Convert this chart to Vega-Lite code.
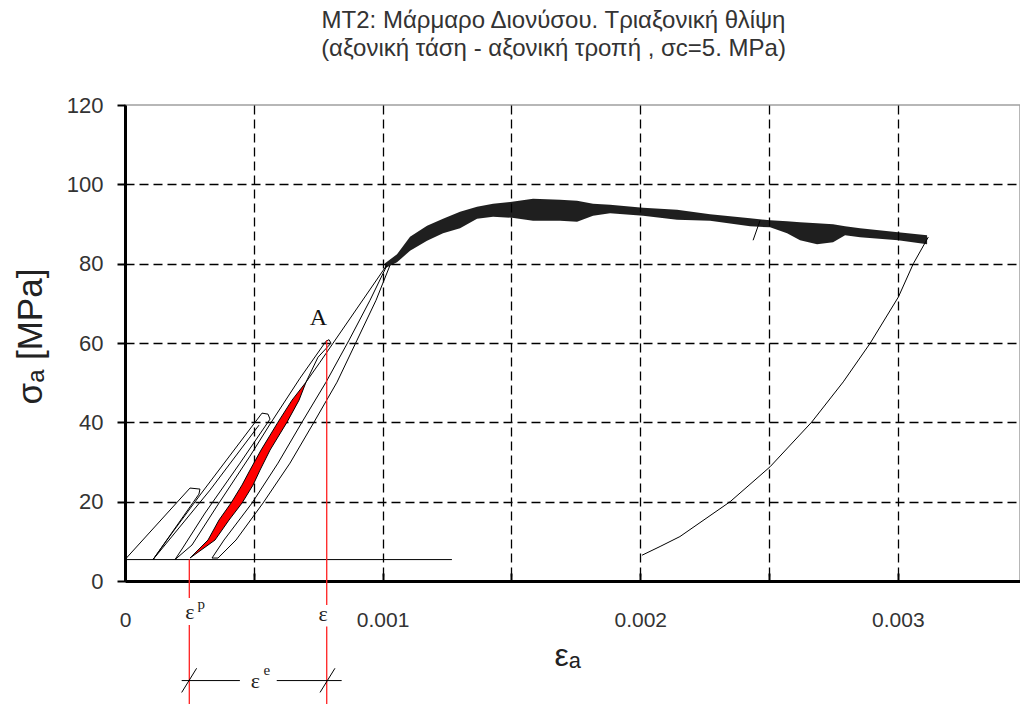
{
  "$schema": "https://vega.github.io/schema/vega-lite/v6.json",
  "width": 895,
  "height": 476,
  "autosize": "none",
  "padding": {"left": 125, "top": 105, "right": 0, "bottom": 123},
  "background": "white",
  "config": {
    "view": {"stroke": "#a0a0a0", "strokeWidth": 1.5},
    "font": "Liberation Sans"
  },
  "title": {
    "text": ["MT2: Μάρμαρο Διονύσου. Τριαξονική θλίψη", "(αξονική τάση - αξονική τροπή , σc=5. MPa)"],
    "font": "Liberation Sans",
    "fontSize": 24,
    "fontWeight": "normal",
    "color": "#333",
    "lineHeight": 28,
    "anchor": "middle",
    "frame": "group",
    "baseline": "bottom",
    "dx": -19,
    "offset": 9
  },
  "datasets": {
    "curves": [
      {"seg": "base", "i": 0, "x": 0, "y": 5.4},
      {"seg": "base", "i": 1, "x": 0.001269, "y": 5.4},
      {"seg": "L1", "i": 0, "x": 0, "y": 5.4},
      {"seg": "L1", "i": 1, "x": 0.0002523, "y": 23.43},
      {"seg": "L1", "i": 2, "x": 0.000291, "y": 23.17},
      {"seg": "L1", "i": 3, "x": 0.000287, "y": 21.91},
      {"seg": "L1", "i": 4, "x": 0.0001087, "y": 5.4},
      {"seg": "C", "i": 0, "x": 0.0001087, "y": 5.4},
      {"seg": "C", "i": 1, "x": 0.0001825, "y": 12.09},
      {"seg": "C", "i": 2, "x": 0.0002911, "y": 21.66},
      {"seg": "C", "i": 3, "x": 0.0005318, "y": 42.32},
      {"seg": "C", "i": 4, "x": 0.0005551, "y": 42.07},
      {"seg": "C", "i": 5, "x": 0.0005629, "y": 40.81},
      {"seg": "D", "i": 0, "x": 0.0001087, "y": 5.4},
      {"seg": "D", "i": 1, "x": 0.00033, "y": 22.92},
      {"seg": "D", "i": 2, "x": 0.00052, "y": 39.29},
      {"seg": "E", "i": 0, "x": 0.0005629, "y": 40.81},
      {"seg": "E", "i": 1, "x": 0.0004464, "y": 29.72},
      {"seg": "E", "i": 2, "x": 0.0003106, "y": 17.13},
      {"seg": "E", "i": 3, "x": 0.0002213, "y": 8.06},
      {"seg": "E", "i": 4, "x": 0.0001941, "y": 5.4},
      {"seg": "F", "i": 0, "x": 0.0001941, "y": 5.4},
      {"seg": "F", "i": 1, "x": 0.00026, "y": 9.07},
      {"seg": "F", "i": 2, "x": 0.0003571, "y": 18.89},
      {"seg": "F", "i": 3, "x": 0.0004853, "y": 31.49},
      {"seg": "F", "i": 4, "x": 0.0005629, "y": 39.55},
      {"seg": "F", "i": 5, "x": 0.0006793, "y": 51.13},
      {"seg": "F", "i": 6, "x": 0.0007803, "y": 60.45},
      {"seg": "F", "i": 7, "x": 0.0007919, "y": 60.83},
      {"seg": "F", "i": 8, "x": 0.0007997, "y": 59.95},
      {"seg": "F", "i": 9, "x": 0.0007492, "y": 56.42},
      {"seg": "F", "i": 10, "x": 0.0007026, "y": 50.13},
      {"seg": "LL", "i": 0, "x": 0.0007026, "y": 50.13},
      {"seg": "LL", "i": 1, "x": 0.0006483, "y": 45.59},
      {"seg": "LL", "i": 2, "x": 0.0005939, "y": 40.05},
      {"seg": "LL", "i": 3, "x": 0.000528, "y": 33.0},
      {"seg": "LL", "i": 4, "x": 0.0004852, "y": 27.96},
      {"seg": "LL", "i": 5, "x": 0.0004542, "y": 24.18},
      {"seg": "LL", "i": 6, "x": 0.0004115, "y": 19.65},
      {"seg": "LL", "i": 7, "x": 0.0003649, "y": 15.37},
      {"seg": "LL", "i": 8, "x": 0.0003222, "y": 10.33},
      {"seg": "LL", "i": 9, "x": 0.0002523, "y": 5.79},
      {"seg": "LR", "i": 0, "x": 0.0002523, "y": 5.79},
      {"seg": "LR", "i": 1, "x": 0.0003494, "y": 10.33},
      {"seg": "LR", "i": 2, "x": 0.0004037, "y": 15.37},
      {"seg": "LR", "i": 3, "x": 0.0004542, "y": 19.65},
      {"seg": "LR", "i": 4, "x": 0.0004969, "y": 24.18},
      {"seg": "LR", "i": 5, "x": 0.0005241, "y": 27.96},
      {"seg": "LR", "i": 6, "x": 0.0005629, "y": 33.0},
      {"seg": "LR", "i": 7, "x": 0.0006289, "y": 40.05},
      {"seg": "LR", "i": 8, "x": 0.0006755, "y": 45.59},
      {"seg": "LR", "i": 9, "x": 0.0007026, "y": 50.13},
      {"seg": "R2", "i": 0, "x": 0.0007026, "y": 50.13},
      {"seg": "R2", "i": 1, "x": 0.000757, "y": 55.16},
      {"seg": "R2", "i": 2, "x": 0.0008075, "y": 59.95},
      {"seg": "R2", "i": 3, "x": 0.0010132, "y": 79.35},
      {"seg": "U80", "i": 0, "x": 0.0010171, "y": 79.6},
      {"seg": "U80", "i": 1, "x": 0.0009511, "y": 70.78},
      {"seg": "U80", "i": 2, "x": 0.0008696, "y": 60.71},
      {"seg": "U80", "i": 3, "x": 0.0007803, "y": 50.13},
      {"seg": "U80", "i": 4, "x": 0.0006871, "y": 40.05},
      {"seg": "U80", "i": 5, "x": 0.0005939, "y": 29.72},
      {"seg": "U80", "i": 6, "x": 0.000493, "y": 19.65},
      {"seg": "U80", "i": 7, "x": 0.0003843, "y": 10.33},
      {"seg": "U80", "i": 8, "x": 0.0003377, "y": 5.79},
      {"seg": "R80", "i": 0, "x": 0.0003377, "y": 5.79},
      {"seg": "R80", "i": 1, "x": 0.000361, "y": 5.79},
      {"seg": "R80", "i": 2, "x": 0.0004309, "y": 10.33},
      {"seg": "R80", "i": 3, "x": 0.0005357, "y": 19.65},
      {"seg": "R80", "i": 4, "x": 0.0006405, "y": 29.72},
      {"seg": "R80", "i": 5, "x": 0.0007337, "y": 40.05},
      {"seg": "R80", "i": 6, "x": 0.000823, "y": 50.13},
      {"seg": "R80", "i": 7, "x": 0.0009006, "y": 60.71},
      {"seg": "R80", "i": 8, "x": 0.0009744, "y": 70.78},
      {"seg": "R80", "i": 9, "x": 0.0010287, "y": 79.6},
      {"seg": "blip", "i": 0, "x": 0.002465, "y": 90.9},
      {"seg": "blip", "i": 1, "x": 0.002438, "y": 85.9},
      {"seg": "unl", "i": 0, "x": 0.003118, "y": 86.7},
      {"seg": "unl", "i": 1, "x": 0.00306, "y": 80.0},
      {"seg": "unl", "i": 2, "x": 0.003002, "y": 71.6},
      {"seg": "unl", "i": 3, "x": 0.002892, "y": 59.9},
      {"seg": "unl", "i": 4, "x": 0.002788, "y": 50.2},
      {"seg": "unl", "i": 5, "x": 0.002666, "y": 40.1},
      {"seg": "unl", "i": 6, "x": 0.002504, "y": 28.8},
      {"seg": "unl", "i": 7, "x": 0.002349, "y": 20.0},
      {"seg": "unl", "i": 8, "x": 0.002154, "y": 11.2},
      {"seg": "unl", "i": 9, "x": 0.002077, "y": 8.7},
      {"seg": "unl", "i": 10, "x": 0.002007, "y": 6.5}
    ],
    "band": [
      {"x": 0.0010093, "y": 80.10, "y2": 78.84},
      {"x": 0.0010559, "y": 82.37, "y2": 80.35},
      {"x": 0.0011064, "y": 86.78, "y2": 83.25},
      {"x": 0.0011724, "y": 89.55, "y2": 85.77},
      {"x": 0.0012345, "y": 91.31, "y2": 87.66},
      {"x": 0.0013005, "y": 93.07, "y2": 88.92},
      {"x": 0.0013665, "y": 94.33, "y2": 91.31},
      {"x": 0.0014286, "y": 95.09, "y2": 91.81},
      {"x": 0.0015023, "y": 95.59, "y2": 91.56},
      {"x": 0.0015839, "y": 96.35, "y2": 90.81},
      {"x": 0.0016887, "y": 96.10, "y2": 90.81},
      {"x": 0.0017547, "y": 95.84, "y2": 90.55},
      {"x": 0.0018168, "y": 95.09, "y2": 92.07},
      {"x": 0.0018828, "y": 94.84, "y2": 92.70},
      {"x": 0.0020109, "y": 94.08, "y2": 92.07},
      {"x": 0.0021429, "y": 93.58, "y2": 91.06},
      {"x": 0.002271, "y": 92.44, "y2": 90.81},
      {"x": 0.0024263, "y": 91.44, "y2": 89.42},
      {"x": 0.0025039, "y": 90.93, "y2": 89.17},
      {"x": 0.0025699, "y": 90.68, "y2": 87.66},
      {"x": 0.0026203, "y": 90.43, "y2": 85.89},
      {"x": 0.0026863, "y": 90.18, "y2": 84.89},
      {"x": 0.0027484, "y": 89.92, "y2": 85.39},
      {"x": 0.002795, "y": 89.42, "y2": 87.15},
      {"x": 0.0028533, "y": 88.92, "y2": 86.65},
      {"x": 0.0030008, "y": 87.91, "y2": 85.89},
      {"x": 0.0031134, "y": 87.15, "y2": 84.89}
    ],
    "lens": [
      {"y": 5.79, "x": 0.0002523, "x2": 0.0002523},
      {"y": 10.33, "x": 0.0003222, "x2": 0.0003494},
      {"y": 15.37, "x": 0.0003649, "x2": 0.0004037},
      {"y": 19.65, "x": 0.0004115, "x2": 0.0004542},
      {"y": 24.18, "x": 0.0004542, "x2": 0.0004969},
      {"y": 27.96, "x": 0.0004852, "x2": 0.0005241},
      {"y": 33.0, "x": 0.000528, "x2": 0.0005629},
      {"y": 40.05, "x": 0.0005939, "x2": 0.0006289},
      {"y": 45.59, "x": 0.0006483, "x2": 0.0006755},
      {"y": 50.13, "x": 0.0007026, "x2": 0.0007026}
    ],
    "redlines": [
      {"x": 0.0002496, "y": 5.4, "y2": -4.3},
      {"x": 0.0002496, "y": -11.1, "y2": -32},
      {"x": 0.000783, "y": 60.7, "y2": -6.05},
      {"x": 0.000783, "y": -11.5, "y2": -32}
    ],
    "dims": [
      {"x": 0.00022, "x2": 0.000446, "y": -25.1, "y2": -25.1},
      {"x": 0.000589, "x2": 0.000841, "y": -25.1, "y2": -25.1},
      {"x": 0.00022, "x2": 0.000278, "y": -28.1, "y2": -22.0},
      {"x": 0.000757, "x2": 0.000815, "y": -28.1, "y2": -22.0}
    ],
    "bigtext": [
      {"t": "A", "x": 0.0007504, "y": 66.2}
    ],
    "eps": [
      {"t": "ε", "x": 0.0002523, "y": -7.93},
      {"t": "ε", "x": 0.0007686, "y": -8.44},
      {"t": "ε", "x": 0.0005058, "y": -25.11}
    ],
    "sups": [
      {"t": "p", "x": 0.0002957, "y": -5.79},
      {"t": "e", "x": 0.0005504, "y": -22.54}
    ]
  },
  "encoding": {
    "x": {
      "field": "x",
      "type": "quantitative",
      "scale": {"domain": [0, 0.003474], "nice": false, "zero": false},
      "axis": {
        "values": [0, 0.0005, 0.001, 0.0015, 0.002, 0.0025, 0.003],
        "labelExpr": "indexof(['0','0.001','0.002','0.003'], format(datum.value,'~g')) >= 0 ? format(datum.value,'~g') : ''",
        "title": "εₐ",
        "titleFontSize": 32,
        "titleFontWeight": "normal",
        "titleColor": "#222",
        "titleX": 442,
        "titleY": 84,
        "titleAlign": "center",
        "titleBaseline": "alphabetic",
        "labelFontSize": 21,
        "labelColor": "#333",
        "labelPadding": 36,
        "labelFlush": false,
        "labelOverlap": false,
        "domainColor": "#000",
        "domainWidth": 3,
        "tickColor": "#000",
        "tickWidth": 2,
        "tickSize": -8,
        "grid": true,
        "gridColor": "#000",
        "gridDash": [9, 5],
        "gridWidth": 1.3
      }
    },
    "y": {
      "field": "y",
      "type": "quantitative",
      "scale": {"domain": [0, 120], "nice": false},
      "axis": {
        "values": [0, 20, 40, 60, 80, 100, 120],
        "title": "σₐ [MPa]",
        "titleFontSize": 35,
        "titleFontWeight": "normal",
        "titleColor": "#222",
        "titleX": -95,
        "titleY": 231,
        "titleAngle": -90,
        "titleAlign": "center",
        "titleBaseline": "middle",
        "labelFontSize": 22,
        "labelColor": "#333",
        "labelPadding": 14,
        "tickSize": 8,
        "tickWidth": 2,
        "tickColor": "#000",
        "domainColor": "#000",
        "domainWidth": 3,
        "grid": true,
        "gridColor": {"condition": {"test": "datum.value >= 120", "value": "transparent"}, "value": "#000"},
        "gridDash": [9, 5],
        "gridWidth": 1.3
      }
    }
  },
  "layer": [
    {
      "data": {"name": "lens"},
      "mark": {"type": "area", "orient": "horizontal", "color": "#ff0000", "opacity": 1},
      "encoding": {"x2": {"field": "x2"}}
    },
    {
      "data": {"name": "band"},
      "mark": {"type": "area", "color": "#000", "opacity": 0.88},
      "encoding": {"y2": {"field": "y2"}}
    },
    {
      "data": {"name": "curves"},
      "mark": {"type": "line", "color": "#000", "strokeWidth": 1},
      "encoding": {"detail": {"field": "seg"}, "order": {"field": "i"}}
    },
    {
      "data": {"name": "redlines"},
      "mark": {"type": "rule", "color": "#ff2020", "strokeWidth": 1.3},
      "encoding": {"y2": {"field": "y2"}}
    },
    {
      "data": {"name": "dims"},
      "mark": {"type": "rule", "color": "#000", "strokeWidth": 1},
      "encoding": {"x2": {"field": "x2"}, "y2": {"field": "y2"}}
    },
    {
      "data": {"name": "bigtext"},
      "mark": {"type": "text", "font": "Liberation Serif", "fontSize": 24, "color": "#111", "align": "center", "baseline": "middle"},
      "encoding": {"text": {"field": "t"}}
    },
    {
      "data": {"name": "eps"},
      "mark": {"type": "text", "font": "Liberation Serif", "fontSize": 22, "color": "#222", "align": "center", "baseline": "middle"},
      "encoding": {"text": {"field": "t"}}
    },
    {
      "data": {"name": "sups"},
      "mark": {"type": "text", "font": "Liberation Serif", "fontSize": 15, "color": "#222", "align": "center", "baseline": "middle"},
      "encoding": {"text": {"field": "t"}}
    }
  ]
}
